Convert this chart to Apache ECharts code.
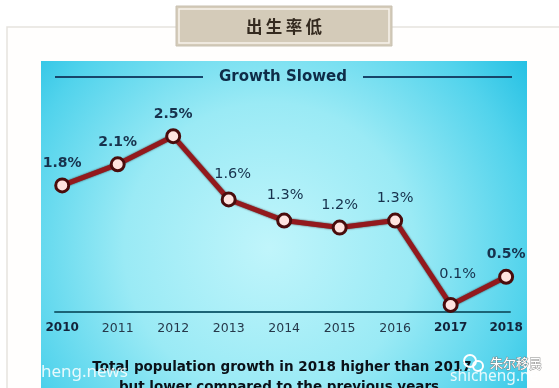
<!DOCTYPE html>
<html>
<head>
<meta charset="utf-8">
<script src="https://cdn.jsdelivr.net/npm/echarts@6/dist/echarts.min.js"></script>
<style>
html,body{margin:0;padding:0;background:#ffffff;}
#c{width:559px;height:388px;}
</style>
</head>
<body>
<div id="c"></div>
<script>
var years = [2010, 2011, 2012, 2013, 2014, 2015, 2016, 2017, 2018];
var growth = [1.8, 2.1, 2.5, 1.6, 1.3, 1.2, 1.3, 0.1, 0.5];
var boldYears = [2010, 2017, 2018];
var boldLabelIdx = [0, 1, 2, 8];
var pageTitle = '出\u2009生\u2009率\u2009低';
var chartTitle = 'Growth Slowed';
var footLine1 = 'Total population growth in 2018 higher than 2017';
var footLine2 = 'but lower compared to the previous years';

var chart = echarts.init(document.getElementById('c'));

var seriesData = years.map(function (y, i) {
  var bold = boldLabelIdx.indexOf(i) >= 0;
  var lab = { fontWeight: bold ? 'bold' : 'normal', fontSize: bold ? 14 : 14.5 };
  if (i === 3) { lab.offset = [4, -3]; }
  if (i === 4) { lab.offset = [1, -3]; }
  if (i === 7) { lab.offset = [7, -8]; }
  return { value: [y, growth[i]], label: lab };
});

var option = {
  animation: false,
  backgroundColor: '#ffffff',
  grid: { left: 55, right: 49, top: 101, bottom: 76 },
  xAxis: {
    type: 'value',
    min: 2009.87,
    max: 2018.07,
    axisLine: { show: true, lineStyle: { color: '#1c6476', width: 2 } },
    axisTick: { show: false },
    splitLine: { show: false },
    axisLabel: {
      customValues: years,
      margin: 10,
      fontFamily: 'DejaVu Sans',
      formatter: function (v) {
        return boldYears.indexOf(v) >= 0 ? '{b|' + v + '}' : '{n|' + v + '}';
      },
      rich: {
        b: { fontFamily: 'DejaVu Sans', fontWeight: 'bold', fontSize: 12, color: '#13233a' },
        n: { fontFamily: 'DejaVu Sans', fontWeight: 'normal', fontSize: 12.5, color: '#26384a' }
      }
    }
  },
  yAxis: {
    type: 'value',
    min: 0,
    max: 3,
    show: false
  },
  graphic: [
    { type: 'rect', z: -30, shape: { x: 7, y: 27, width: 570, height: 400 },
      style: { fill: '#fffefd', stroke: '#e6e3de', lineWidth: 1.5 } },
    { type: 'rect', z: -20, shape: { x: 41, y: 61, width: 486, height: 340 },
      style: {
        fill: new echarts.graphic.RadialGradient(0.47, 0.55, 0.95, [
          { offset: 0, color: '#c0f5fb' },
          { offset: 0.45, color: '#9aeaf5' },
          { offset: 0.8, color: '#52d3ec' },
          { offset: 1, color: '#22bfe3' }
        ])
      } },
    { type: 'rect', z: 5, shape: { x: 176, y: 6, width: 216, height: 40 },
      style: { fill: '#d4cbb9', stroke: '#c9c1b1', lineWidth: 1 } },
    { type: 'rect', z: 6, shape: { x: 179, y: 9, width: 210, height: 34 },
      style: { fill: 'none', stroke: '#f7f3ec', lineWidth: 1.5 } },
    { type: 'text', z: 7, x: 284, y: 27,
      style: { text: pageTitle, fill: '#342a1f', font: 'bold 16.5px "Noto Sans CJK SC"', align: 'center', verticalAlign: 'middle' } },
    { type: 'line', z: 5, shape: { x1: 55, y1: 77, x2: 203, y2: 77 },
      style: { stroke: '#17456a', lineWidth: 2 } },
    { type: 'line', z: 5, shape: { x1: 363, y1: 77, x2: 512, y2: 77 },
      style: { stroke: '#17456a', lineWidth: 2 } },
    { type: 'text', z: 5, x: 283, y: 77,
      style: { text: chartTitle, fill: '#0e2c48', font: 'bold 15px "DejaVu Sans"', align: 'center', verticalAlign: 'middle' } },
    { type: 'text', z: 5, x: 282, y: 367,
      style: { text: footLine1, fill: '#0b1118', font: 'bold 13.5px "DejaVu Sans"', align: 'center', verticalAlign: 'middle' } },
    { type: 'text', z: 5, x: 279, y: 387,
      style: { text: footLine2, fill: '#0b1118', font: 'bold 13.5px "DejaVu Sans"', align: 'center', verticalAlign: 'middle' } },
    { type: 'text', z: 8, x: 41, y: 372,
      style: { text: 'heng.news', fill: 'rgba(255,255,255,0.85)', font: '17px "Noto Sans"', align: 'left', verticalAlign: 'middle' } },
    { type: 'text', z: 8, x: 450, y: 377,
      style: { text: 'shicheng.ne', fill: 'rgba(255,255,255,0.85)', font: '15.5px "Noto Sans"', align: 'left', verticalAlign: 'middle' } },
    { type: 'text', z: 8, x: 490, y: 363,
      style: { text: '朱尔移民', fill: '#ffffff', stroke: '#8a8a8a', lineWidth: 1, font: '13px "Noto Sans CJK SC"', align: 'left', verticalAlign: 'middle' } },
    { type: 'circle', z: 8, shape: { cx: 470, cy: 361, r: 6 },
      style: { fill: 'none', stroke: '#ffffff', lineWidth: 2 } },
    { type: 'circle', z: 8, shape: { cx: 478, cy: 366, r: 5 },
      style: { fill: 'none', stroke: '#ffffff', lineWidth: 2 } }
  ],
  series: [{
    type: 'line',
    data: seriesData,
    z: 3,
    symbol: 'circle',
    symbolSize: 13,
    lineStyle: { color: '#93191d', width: 5, shadowColor: 'rgba(40,5,5,0.8)', shadowBlur: 2 },
    itemStyle: { color: '#ffe3df', borderColor: '#4a0c0c', borderWidth: 3 },
    label: {
      show: true,
      position: 'top',
      distance: 7,
      fontFamily: 'DejaVu Sans',
      color: '#17324d',
      formatter: function (p) { return p.value[1].toFixed(1) + '%'; }
    }
  }]
};
chart.setOption(option);
</script>
</body>
</html>
